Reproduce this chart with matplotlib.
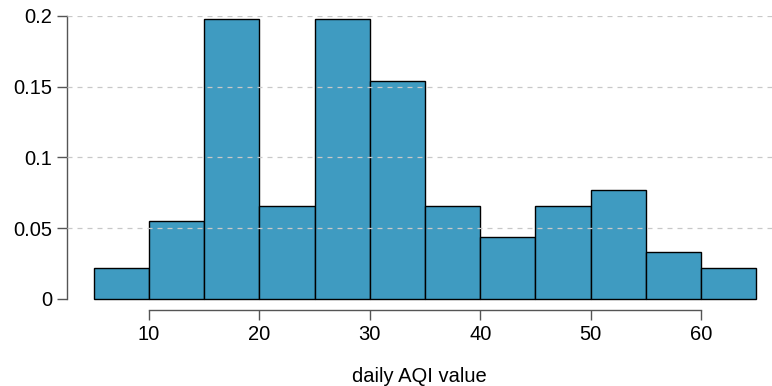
import matplotlib
matplotlib.use("Agg")
import matplotlib.pyplot as plt
import numpy as np

plt.rcParams['font.family'] = ['Liberation Sans', 'DejaVu Sans']

# bin edges and proportion of days in each bin
bin_edges = [5, 10, 15, 20, 25, 30, 35, 40, 45, 50, 55, 60, 65]
proportions = [0.022, 0.055, 0.198, 0.066, 0.198, 0.154,
               0.066, 0.044, 0.066, 0.077, 0.033, 0.022]
x_ticks = [10, 20, 30, 40, 50, 60]
y_ticks = [0, 0.05, 0.1, 0.15, 0.2]
y_tick_labels = ['0', '0.05', '0.1', '0.15', '0.2']

W, H = 772, 386
fig = plt.figure(figsize=(W / 100, H / 100), dpi=100)
# axes box in pixels: left 67, right 772, top 16, bottom 310
ax = fig.add_axes([67 / W, (H - 310) / H, (772 - 67) / W, (310 - 16) / H])

lefts = np.array(bin_edges[:-1])
widths = np.diff(bin_edges)
ax.bar(lefts, proportions, width=widths, align='edge',
       color='#3f9bc1', edgecolor='black', linewidth=1.0, zorder=2)

for yv in y_ticks[1:]:
    ax.axhline(yv, color='#c8c8c8', linestyle=(0, (4, 4)), linewidth=0.9, zorder=3)

ax.set_xlim(2.57, 66.43)
ax.set_ylim(-0.0078, 0.2)

for s in ['top', 'right']:
    ax.spines[s].set_visible(False)
ax.spines['left'].set_bounds(0, 0.2)
ax.spines['bottom'].set_bounds(10, 60)
for s in ['left', 'bottom']:
    ax.spines[s].set_color('#555555')
    ax.spines[s].set_linewidth(1.0)

ax.set_xticks(x_ticks)
ax.set_yticks(y_ticks)
ax.set_yticklabels(y_tick_labels)
ax.tick_params(axis='both', colors='#555555', labelcolor='black',
               labelsize=14.5, length=7, width=1.0)
ax.tick_params(axis='x', pad=3.5)
ax.tick_params(axis='y', pad=3.5)

ax.set_xlabel('daily AQI value', fontsize=14.5, labelpad=16.5)

fig.savefig('out.png', dpi=100)
